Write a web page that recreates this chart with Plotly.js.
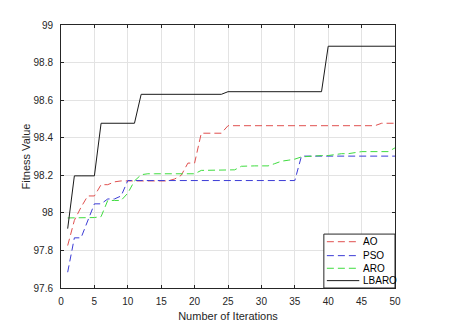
<!DOCTYPE html>
<html>
<head>
<meta charset="utf-8">
<script src="https://cdn.plot.ly/plotly-3.0.1.min.js"></script>
<style>html,body{margin:0;padding:0;background:#fff;}#chart{width:457px;height:334px;}</style>
</head>
<body>
<div id="chart"></div>
<script>
// Convergence curves (iterations 1..50)
const iters = Array.from({length:50},(_,i)=>i+1);
const names = ["AO","PSO","ARO","LBARO"];
const colors = ["#e0504f","#3c3cd6","#3fdc3f","#1a1a1a"];
const dashes = ["7px,4px","7px,4px","7px,4px","solid"];

const ao = [97.826,97.96,98.03,98.09,98.09,98.15,98.15,98.165,98.17,98.17,
  98.17,98.17,98.17,98.17,98.17,98.17,98.18,98.2,98.265,98.265,
  98.424,98.424,98.424,98.424,98.464,98.464,98.464,98.464,98.464,98.464,
  98.464,98.464,98.464,98.464,98.464,98.464,98.464,98.464,98.464,98.464,
  98.464,98.464,98.464,98.464,98.464,98.464,98.464,98.477,98.477,98.477];
const pso = [97.684,97.867,97.867,97.96,98.048,98.048,98.074,98.074,98.09,98.172,
  98.172,98.172,98.172,98.172,98.172,98.172,98.172,98.172,98.172,98.172,
  98.172,98.172,98.172,98.172,98.172,98.172,98.172,98.172,98.172,98.172,
  98.172,98.172,98.172,98.172,98.172,98.302,98.302,98.302,98.302,98.302,
  98.302,98.302,98.302,98.302,98.302,98.302,98.302,98.302,98.302,98.302];
const aro = [97.973,97.973,97.973,97.973,97.975,97.98,98.066,98.066,98.066,98.105,
  98.17,98.203,98.208,98.208,98.208,98.208,98.208,98.208,98.208,98.208,
  98.226,98.226,98.226,98.226,98.229,98.229,98.248,98.25,98.25,98.25,
  98.25,98.262,98.275,98.28,98.286,98.298,98.3,98.305,98.305,98.305,
  98.31,98.315,98.315,98.322,98.326,98.326,98.326,98.326,98.326,98.346];
const lbaro = [97.916,98.197,98.197,98.197,98.197,98.477,98.477,98.477,98.477,98.477,
  98.477,98.631,98.631,98.631,98.631,98.631,98.631,98.631,98.631,98.631,
  98.631,98.631,98.631,98.631,98.645,98.645,98.645,98.645,98.645,98.645,
  98.645,98.645,98.645,98.645,98.645,98.645,98.645,98.645,98.645,98.887,
  98.887,98.887,98.887,98.887,98.887,98.887,98.887,98.887,98.887,98.887];
const series = [ao,pso,aro,lbaro];

const font = "Liberation Sans, Arial, Helvetica, sans-serif";
const axCol = "#262626";

const traces = series.map((ys,k)=>({
  x:iters, y:ys, name:names[k], mode:"lines", type:"scatter",
  line:{color:colors[k], width:1, dash:dashes[k]}, showlegend:false
}));

// MATLAB-style legend box, bottom-right inside the axes
const lgY = [0.176,0.123,0.075,0.028];
const shapes = [{type:"rect",xref:"paper",yref:"paper",x0:0.787,x1:1,y0:0,y1:0.205,
  line:{color:axCol,width:1},fillcolor:"#fff",layer:"above"}];
const annotations = [];
names.forEach((n,k)=>{
  shapes.push({type:"line",xref:"paper",yref:"paper",x0:0.796,x1:0.893,y0:lgY[k],y1:lgY[k],
    line:{color:colors[k],width:1,dash:dashes[k]},layer:"above"});
  annotations.push({xref:"paper",yref:"paper",x:0.897,y:lgY[k],text:n,showarrow:false,
    xanchor:"left",yanchor:"middle",font:{family:font,size:10,color:"#000"}});
});

const axis = {showline:true, linecolor:axCol, linewidth:1, mirror:"ticks",
  ticks:"inside", ticklen:3, tickcolor:axCol, showgrid:true, gridcolor:"#e3e3e3",
  zeroline:false, tickfont:{family:font,size:10,color:axCol}};

Plotly.newPlot("chart", traces, {
  width:457, height:334, paper_bgcolor:"#fff", plot_bgcolor:"#fff",
  margin:{l:61,r:62,t:25,b:46},
  font:{family:font},
  xaxis:Object.assign({},axis,{range:[0,50],dtick:5,tick0:0,ticklabelstandoff:4,
    title:{text:"Number of Iterations",font:{family:font,size:11,color:axCol},standoff:6}}),
  yaxis:Object.assign({},axis,{range:[97.6,99],dtick:0.2,tick0:97.6,ticklabelstandoff:5,
    title:{text:"Fitness Value",font:{family:font,size:11,color:axCol},standoff:0}}),
  shapes:shapes, annotations:annotations
}, {displayModeBar:false, staticPlot:true});
</script>
</body>
</html>
